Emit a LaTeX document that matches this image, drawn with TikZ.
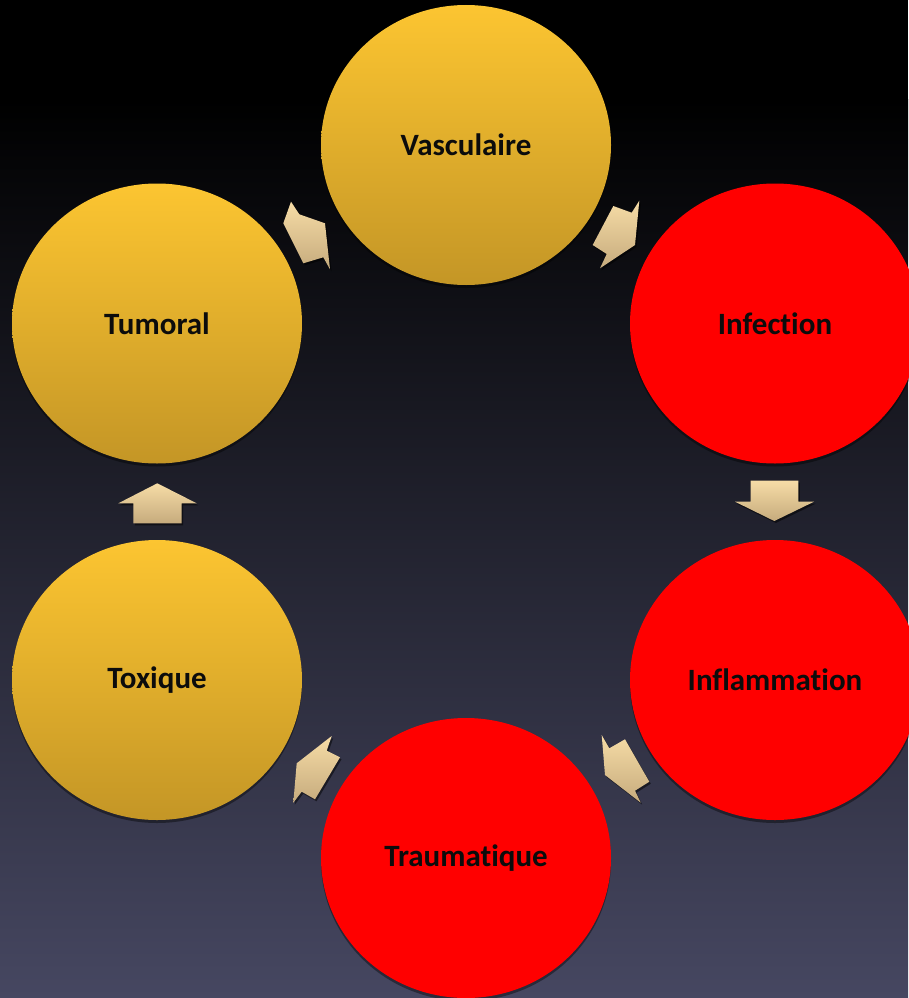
\documentclass[tikz,border=0pt]{standalone}
\usepackage{fontspec}
\setmainfont{Carlito}[Ligatures=NoCommon]
\usetikzlibrary{shapes.geometric,shadows}
\definecolor{bgbot}{RGB}{70,71,97}
\definecolor{goldtop}{RGB}{252,197,49}
\definecolor{goldbot}{RGB}{196,150,38}
\definecolor{redfill}{RGB}{255,0,0}
\definecolor{arrtop}{RGB}{246,220,166}
\definecolor{arrbot}{RGB}{198,171,125}
\definecolor{txt}{RGB}{12,12,12}
\tikzset{
  stage/.style={ellipse, minimum width=290pt, minimum height=280pt, inner sep=0pt,
    font=\bfseries\fontsize{31}{37}\selectfont, text=txt,
    drop shadow={shadow xshift=0pt, shadow yshift=-3pt, opacity=0.4, fill=black}},
  goldstage/.style={stage, top color=goldtop, bottom color=goldbot},
  redstage/.style={stage, fill=redfill},
  blockarrow/.style={top color=arrtop, bottom color=arrbot,
    drop shadow={shadow xshift=1.5pt, shadow yshift=-2pt, opacity=0.5, fill=black}}
}
\begin{document}
\begin{tikzpicture}[x=1pt,y=-1pt]
\useasboundingbox (0,0) rectangle (908,998);
\fill[black] (0,0) rectangle (908,100);
\fill[top color=black, bottom color=bgbot] (0,99) rectangle (908,998);

\node[goldstage] (vasc) at (466,145) {Vasculaire};
\node[redstage]  (inf)  at (775,323.5) {Infection};
\node[redstage]  (infl) at (775,680) {Inflammation};
\node[redstage]  (trau) at (466,858) {Traumatique};
\node[goldstage] (tox)  at (157,680) {Toxique};
\node[goldstage] (tum)  at (157,323.5) {Tumoral};

% Tumoral -> Vasculaire
\path[blockarrow] (291.0,201.7) -- (299.3,214.3) -- (325.0,223.3) -- (330.0,269.3)
  -- (323.3,257.3) -- (303.3,263.3) -- (283.3,223.3) -- cycle;
% Vasculaire -> Infection
\path[blockarrow] (639.3,200.7) -- (631.7,212.7) -- (613.3,206.0) -- (592.7,245.0)
  -- (606.7,254.0) -- (600.0,268.3) -- (635.0,245.0) -- cycle;
% Infection -> Inflammation
\path[blockarrow] (750.7,480.7) -- (798.3,480.7) -- (798.3,501.7) -- (814,501.7)
  -- (774.3,521) -- (735,501.7) -- (750.7,501.7) -- cycle;
% Inflammation -> Traumatique
\path[blockarrow] (601.7,735) -- (609.3,748.3) -- (625,739.3) -- (649.3,781.7)
  -- (635,790.7) -- (640.7,802.7) -- (605,775) -- cycle;
% Traumatique -> Toxique
\path[blockarrow] (331.7,736) -- (326.7,750.7) -- (340,757.3) -- (315,799.3)
  -- (301.7,791.7) -- (293.3,802.7) -- (296.7,763.3) -- cycle;
% Toxique -> Tumoral
\path[blockarrow] (157.3,483.3) -- (196.7,503.3) -- (181.7,503.3) -- (181.7,523.3)
  -- (133.3,523.3) -- (133.3,503.3) -- (118.3,503.3) -- cycle;
\end{tikzpicture}
\end{document}
